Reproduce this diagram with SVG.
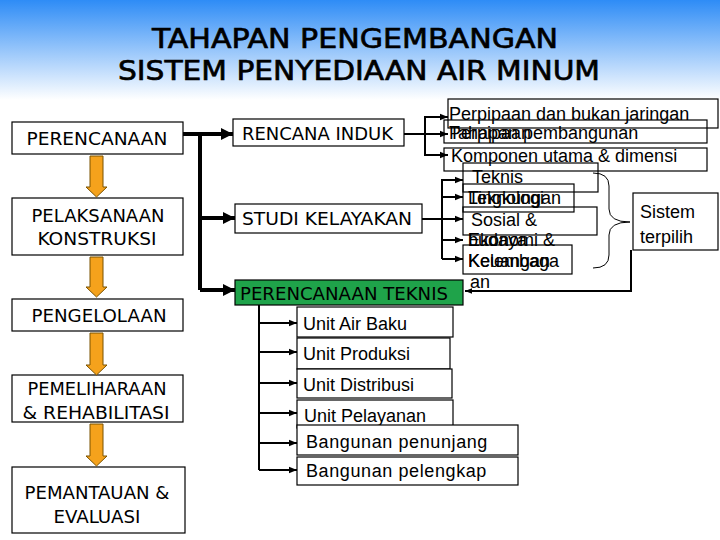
<svg xmlns="http://www.w3.org/2000/svg" width="720" height="540" viewBox="0 0 720 540">
<defs>
<linearGradient id="bg" x1="0" y1="0" x2="0" y2="1">
<stop offset="0" stop-color="#2e8cf6"/>
<stop offset="1" stop-color="#ffffff"/>
</linearGradient>
<marker id="ah" viewBox="0 0 10 10" refX="10" refY="5" markerWidth="4" markerHeight="4" orient="auto" markerUnits="strokeWidth">
<path d="M0,1 L10,5 L0,9 Z" fill="#000"/>
</marker>
<marker id="ahs" viewBox="0 0 10 10" refX="10" refY="5" markerWidth="3.5" markerHeight="3.5" orient="auto" markerUnits="strokeWidth">
<path d="M0,1 L10,5 L0,9 Z" fill="#000"/>
</marker>
<marker id="ahb" viewBox="0 0 10 10" refX="10" refY="5" markerWidth="3.5" markerHeight="3" orient="auto" markerUnits="strokeWidth">
<path d="M0,0 L10,5 L0,10 Z" fill="#000"/>
</marker>
</defs>
<style>
.box{fill:#fff;stroke:#000;stroke-width:1.2}
.ob{fill:none;stroke:#000;stroke-width:1.2}
.tah{font-family:"DejaVu Sans Condensed","DejaVu Sans",sans-serif;font-size:18px;fill:#000}
.ar{font-family:"Liberation Sans",Arial,sans-serif;font-size:18px;fill:#000}
.ttl{font-family:"DejaVu Sans Condensed","DejaVu Sans",sans-serif;font-size:27px;fill:#000;stroke:#000;stroke-width:0.6}
.c2{fill:none;stroke:#000;stroke-width:2}
.c4{fill:none;stroke:#000;stroke-width:4}
.oa{fill:#f5a21c;stroke:#7a5200;stroke-width:1}
</style>
<rect x="0" y="0" width="720" height="540" fill="#fff"/>
<rect x="0" y="0" width="720" height="100" fill="url(#bg)"/>
<g id="title">
<text class="ttl" x="355" y="48" text-anchor="middle" textLength="406" lengthAdjust="spacingAndGlyphs">TAHAPAN PENGEMBANGAN</text>
<text class="ttl" x="359" y="80" text-anchor="middle" textLength="482" lengthAdjust="spacingAndGlyphs">SISTEM PENYEDIAAN AIR MINUM</text>
</g>
<g id="stages">
<g id="n-perencanaan"><rect class="box" x="12" y="122" width="171" height="32"/><text class="tah" x="97" y="145" text-anchor="middle" textLength="141" lengthAdjust="spacingAndGlyphs">PERENCANAAN</text></g>
<g id="n-pelaksanaan"><rect class="box" x="12" y="198" width="171" height="57"/><text class="tah" x="98" y="222" text-anchor="middle" textLength="133" lengthAdjust="spacingAndGlyphs">PELAKSANAAN</text><text class="tah" x="97" y="245" text-anchor="middle" textLength="119" lengthAdjust="spacingAndGlyphs">KONSTRUKSI</text></g>
<g id="n-pengelolaan"><rect class="box" x="12" y="299" width="171" height="32"/><text class="tah" x="99" y="322" text-anchor="middle" textLength="135" lengthAdjust="spacingAndGlyphs">PENGELOLAAN</text></g>
<g id="n-pemeliharaan"><rect class="box" x="12" y="375" width="171" height="47"/><text class="tah" x="97" y="395" text-anchor="middle" textLength="139" lengthAdjust="spacingAndGlyphs">PEMELIHARAAN</text><text class="tah" x="96" y="419" text-anchor="middle" textLength="147" lengthAdjust="spacingAndGlyphs">&amp; REHABILITASI</text></g>
<g id="n-pemantauan"><rect class="box" x="12" y="467" width="173" height="66"/><text class="tah" x="97" y="499" text-anchor="middle" textLength="145" lengthAdjust="spacingAndGlyphs">PEMANTAUAN &amp;</text><text class="tah" x="97" y="523" text-anchor="middle" textLength="87" lengthAdjust="spacingAndGlyphs">EVALUASI</text></g>
</g>
<g id="orange-arrows">
<path class="oa" d="M90,156 H103 V187 H107 L96.5,197 L86,187 H90 Z"/>
<path class="oa" d="M90,257 H103 V287 H107 L96.5,297 L86,287 H90 Z"/>
<path class="oa" d="M90,333 H103 V365 H107 L96.5,375 L86,365 H90 Z"/>
<path class="oa" d="M90,424 H103 V456 H107 L96.5,466 L86,456 H90 Z"/>
</g>
<g id="plans">
<g id="n-rencana"><rect class="box" x="233" y="119" width="171" height="27"/><text class="tah" x="242" y="140" textLength="151" lengthAdjust="spacingAndGlyphs">RENCANA INDUK</text></g>
<g id="n-studi"><rect class="box" x="235" y="204" width="187" height="29"/><text class="tah" x="242" y="225" textLength="170" lengthAdjust="spacingAndGlyphs">STUDI KELAYAKAN</text></g>
<g id="n-teknis"><rect x="235" y="280" width="228" height="25" fill="#1fa34a" stroke="#000" stroke-width="1.2"/><text class="tah" x="240" y="300" textLength="208" lengthAdjust="spacingAndGlyphs">PERENCANAAN TEKNIS</text></g>
</g>
<g id="master-items">
<rect class="ob" x="448" y="99" width="270" height="29"/>
<rect class="ob" x="444" y="120" width="263" height="23"/>
<rect class="ob" x="444" y="148" width="263" height="23"/>
<text class="ar" x="449" y="120">Perpipaan dan bukan jaringan</text>
<text class="ar" x="449" y="139">Tahapan pembangunan</text>
<text class="ar" x="449" y="139">Perpipaan</text>
<text class="ar" x="451" y="162">Komponen utama &amp; dimensi</text>
</g>
<g id="feasibility-items">
<rect class="ob" x="463" y="163" width="135" height="29"/>
<rect class="ob" x="463" y="184" width="111" height="28"/>
<rect class="ob" x="463" y="207" width="134" height="28"/>
<rect class="ob" x="463" y="245" width="109" height="29"/>
<text class="ar" x="472" y="183">Teknis</text>
<text class="ar" x="468" y="204">Teknologi</text>
<text class="ar" x="468" y="204">Lingkungan</text>
<text class="ar" x="471" y="226">Sosial &amp;</text>
<text class="ar" x="468" y="246">Ekonomi &amp;</text>
<text class="ar" x="468" y="246">budaya</text>
<text class="ar" x="468" y="267">Kelembaga</text>
<text class="ar" x="468" y="267">Keuangan</text>
<text class="ar" x="470" y="288">an</text>
</g>
<g id="n-sistem"><rect class="box" x="633" y="193" width="85" height="57"/><text class="ar" x="640" y="218" font-size="19">Sistem</text><text class="ar" x="640" y="243" font-size="19">terpilih</text></g>
<g id="technical-items">
<g id="u1"><rect class="box" x="297" y="307" width="156" height="30"/><text class="ar" x="303" y="330" font-size="19">Unit Air Baku</text></g>
<g id="u2"><rect class="box" x="297" y="338" width="153" height="31"/><text class="ar" x="303" y="360" font-size="19">Unit Produksi</text></g>
<g id="u3"><rect class="box" x="297" y="369" width="155" height="29"/><text class="ar" x="303" y="391" font-size="19">Unit Distribusi</text></g>
<g id="u4"><rect class="box" x="297" y="400" width="156" height="28"/><text class="ar" x="304" y="422" font-size="19">Unit Pelayanan</text></g>
<g id="u5"><rect class="box" x="297" y="425" width="221" height="30"/><text class="ar" x="306" y="448" font-size="19" letter-spacing="0.6">Bangunan penunjang</text></g>
<g id="u6"><rect class="box" x="297" y="457" width="221" height="28"/><text class="ar" x="306" y="477" font-size="19" letter-spacing="0.6">Bangunan pelengkap</text></g>
</g>
<g id="connectors">
<path class="c4" d="M183,134 H200 V290"/>
<path class="c4" d="M200,134 H233" marker-end="url(#ahb)"/>
<path class="c4" d="M200,218 H235" marker-end="url(#ahb)"/>
<path class="c4" d="M200,290 H235" marker-end="url(#ahb)"/>
<path class="c2" d="M404,134 H448" marker-end="url(#ah)"/>
<path class="c2" d="M448,117 H425 V155 H448" marker-end="url(#ah)"/>
<path class="c2" d="M425,117 H448" marker-end="url(#ah)"/>
<path class="c2" d="M422,219 H463" marker-end="url(#ah)"/>
<path class="c2" d="M463,180 H442 V259"/>
<path class="c2" d="M442,180 H463" marker-end="url(#ah)"/>
<path class="c2" d="M442,197 H463" marker-end="url(#ah)"/>
<path class="c2" d="M442,240 H463" marker-end="url(#ah)"/>
<path class="c2" d="M442,259 H463" marker-end="url(#ah)"/>
<path d="M593,173 Q609,173 609,186 V209 Q609,222 630,222 Q609,222 609,235 V255 Q609,268 593,268" fill="none" stroke="#000" stroke-width="1"/>
<path class="c2" d="M631,250 V291 H465" stroke-width="3" marker-end="url(#ahs)"/>
<path class="c2" d="M259,305 V470"/>
<path class="c2" d="M259,323 H297" marker-end="url(#ah)"/>
<path class="c2" d="M259,352 H297" marker-end="url(#ah)"/>
<path class="c2" d="M259,383 H297" marker-end="url(#ah)"/>
<path class="c2" d="M259,413 H297" marker-end="url(#ah)"/>
<path class="c2" d="M259,443 H297" marker-end="url(#ah)"/>
<path class="c2" d="M259,470 H297" marker-end="url(#ah)"/>
</g>
</svg>
